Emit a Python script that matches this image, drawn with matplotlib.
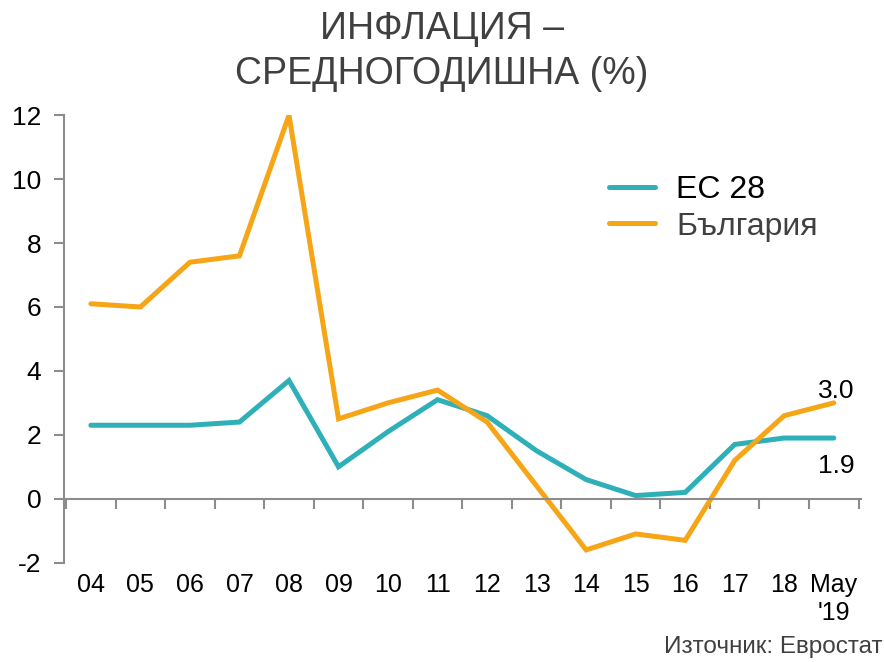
import numpy as np
import matplotlib.pyplot as plt
import matplotlib.transforms as mtransforms

plt.rcParams['font.family'] = ['Liberation Sans', 'DejaVu Sans']
plt.rcParams['axes.unicode_minus'] = False

# данни
years = ['04', '05', '06', '07', '08', '09', '10', '11', '12', '13', '14', '15', '16', '17', '18', "May\n'19"]
eu28 = [2.3, 2.3, 2.3, 2.4, 3.7, 1.0, 2.1, 3.1, 2.6, 1.5, 0.6, 0.1, 0.2, 1.7, 1.9, 1.9]
bulgaria = [6.1, 6.0, 7.4, 7.6, 12.0, 2.5, 3.0, 3.4, 2.4, 0.4, -1.6, -1.1, -1.3, 1.2, 2.6, 3.0]

teal = '#2fb0b8'
orange = '#f5a516'
axis_grey = '#8c8c8c'

fig = plt.figure(figsize=(8.84, 6.62), dpi=100)
ax = fig.add_axes([0.072, 0.150, 0.902, 0.676])

x = np.arange(len(years))
ax.plot(x, eu28, color=teal, lw=3.6, solid_capstyle='round', solid_joinstyle='miter', label='ЕС 28')
ax.plot(x, bulgaria, color=orange, lw=3.6, solid_capstyle='round', solid_joinstyle='miter', label='България')

ax.set_xlim(-0.55, len(years) - 0.45)
ax.set_ylim(-2, 12)
ax.set_yticks(range(-2, 13, 2))
ax.tick_params(axis='y', direction='out', length=7, width=1.5, color=axis_grey, labelsize=19, pad=9)

# ос x през нулата, деления между категориите
for s in ['top', 'right']:
    ax.spines[s].set_visible(False)
ax.spines['left'].set_color(axis_grey)
ax.spines['left'].set_linewidth(1.5)
ax.spines['bottom'].set_position(('data', 0))
ax.spines['bottom'].set_color(axis_grey)
ax.spines['bottom'].set_linewidth(1.5)
ax.set_xticks(np.arange(len(years) + 1) - 0.5)
ax.tick_params(axis='x', direction='out', length=7, width=1.5, color=axis_grey, labelbottom=False)

trans = mtransforms.blended_transform_factory(ax.transData, ax.transAxes)
for i, lab in enumerate(years):
    ax.text(i, -0.022, lab, transform=trans, ha='center', va='top', fontsize=18, color='black', linespacing=1.25)

# стойности в края
ax.text(x[-1] + 0.05, bulgaria[-1] + 0.0, '3.0', ha='center', va='bottom', fontsize=19)
ax.text(x[-1] + 0.05, eu28[-1] - 0.5, '1.9', ha='center', va='top', fontsize=19)

leg = ax.legend(loc='upper left', bbox_to_anchor=(0.648, 0.93), frameon=False, fontsize=23,
                handlelength=1.45, handletextpad=0.65, labelspacing=0.2)
leg.get_texts()[0].set_color('black')
leg.get_texts()[1].set_color('#404040')

fig.text(0.50, 0.984, 'ИНФЛАЦИЯ –\nСРЕДНОГОДИШНА (%)', ha='center', va='top', fontsize=27,
         color='#404040', linespacing=1.35)
fig.text(0.998, 0.006, 'Източник: Евростат', ha='right', va='bottom', fontsize=17.5, color='#404040')

fig.savefig('out.png', dpi=100)
